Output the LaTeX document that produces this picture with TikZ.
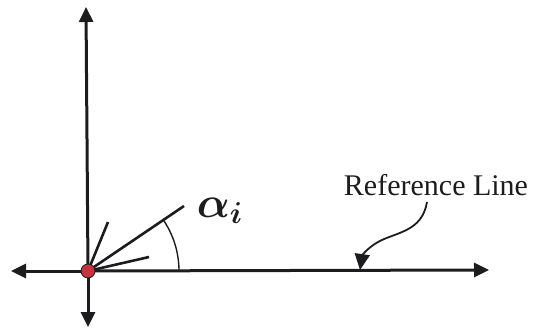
\documentclass[tikz,border=0pt]{standalone}
\usepackage{fontspec}
\setmainfont{Liberation Serif}
\usetikzlibrary{arrows.meta}
\definecolor{ink}{HTML}{1C1C1E}
\definecolor{dotred}{HTML}{C8323C}
\begin{document}
\begin{tikzpicture}[x=1pt,y=-1pt,
  axis/.style={ink,line width=3pt,-{Triangle[length=15pt,width=14pt]}},
  ray/.style={ink,line width=2.6pt},
  thin/.style={ink,line width=1.4pt}]
\useasboundingbox (0,0) rectangle (537,329);
\coordinate (o) at (88,271);
\coordinate (top) at (86,7);
\coordinate (bot) at (88,327);
\coordinate (left) at (11,271);
\coordinate (right) at (489,270);
\draw[axis] (o) -- (top);
\draw[axis] (o) -- (bot);
\draw[axis] (o) -- (left);
\draw[axis] (o) -- (right);
\coordinate (r1) at (108,222);
\coordinate (r2) at (184,206);
\coordinate (r3) at (149,257);
\draw[ray] (o) -- (r1);
\draw[ray] (o) -- (r2);
\draw[ray] (o) -- (r3);
\draw[thin] (o) ++(0:91) arc[start angle=0,end angle=-34.5,radius=91];
\fill[dotred,draw=ink,line width=0.8pt] (o) circle (7);
\node[ink,scale=2.1,font=\fontsize{20}{24}\selectfont\boldmath] (alpha) at (220,211) {$\alpha_i$};
\node[ink,font=\fontsize{30}{36}\selectfont] (ref) at (436,185) {Reference Line};
\coordinate (tip) at (360,270);
\draw[ink,line width=1.8pt,-{Triangle[length=16pt,width=15pt]}] (427,202) .. controls (422,232) and (396,232) .. (378,242) .. controls (366,249) and (362,256) .. (tip);
\end{tikzpicture}
\end{document}
